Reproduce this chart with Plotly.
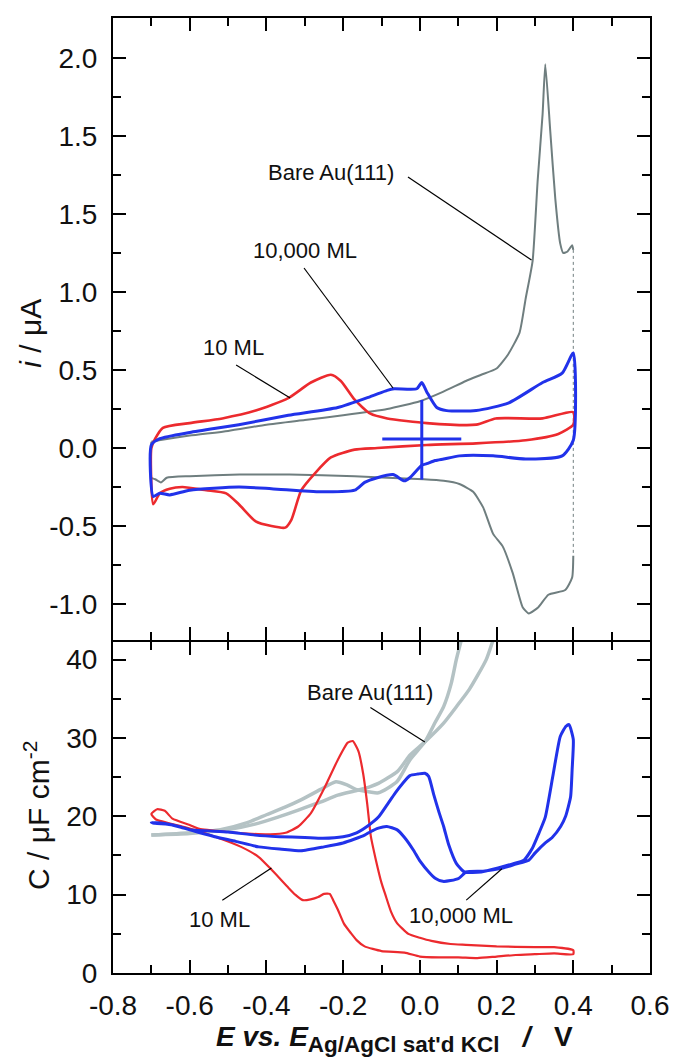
import plotly.graph_objects as go

# ---------------- top panel: cyclic voltammograms (i / uA) ----------------
bare_cv_fwd_E = [-0.70, -0.68, -0.60, -0.50, -0.40, -0.30, -0.20, -0.085, 0.0, 0.06, 0.12, 0.16, 0.20, 0.23, 0.26, 0.276, 0.294, 0.307, 0.320, 0.327, 0.34, 0.353, 0.366, 0.374, 0.385, 0.397, 0.40]
bare_cv_fwd_i = [0.04, 0.05, 0.08, 0.11, 0.15, 0.18, 0.21, 0.25, 0.30, 0.36, 0.43, 0.47, 0.51, 0.60, 0.74, 0.96, 1.20, 1.71, 2.14, 2.46, 2.03, 1.60, 1.31, 1.25, 1.26, 1.30, 1.27]
bare_cv_rev_E = [0.40, 0.397, 0.379, 0.335, 0.309, 0.284, 0.268, 0.242, 0.216, 0.191, 0.165, 0.139, 0.103, 0.062, 0.010, -0.085, -0.17, -0.34, -0.47, -0.60, -0.66, -0.675, -0.69, -0.70, -0.70]
bare_cv_rev_i = [-0.69, -0.83, -0.91, -0.94, -1.02, -1.06, -1.02, -0.80, -0.63, -0.55, -0.38, -0.28, -0.23, -0.21, -0.20, -0.19, -0.18, -0.17, -0.17, -0.18, -0.19, -0.22, -0.20, -0.19, 0.04]

ml10_cv_E = [-0.70, -0.69, -0.67, -0.60, -0.515, -0.428, -0.343, -0.284, -0.232, -0.206, -0.17, -0.129, -0.085, 0.018, 0.147, 0.198, 0.32, 0.40,
             0.40, 0.361, 0.276, 0.147, 0.018, -0.111, -0.17, -0.232, -0.273, -0.309, -0.335, -0.351, -0.387, -0.428, -0.472, -0.505, -0.557, -0.619, -0.652, -0.678, -0.695, -0.70]
ml10_cv_i = [0.00, 0.06, 0.13, 0.16, 0.19, 0.24, 0.32, 0.42, 0.47, 0.43, 0.31, 0.22, 0.19, 0.16, 0.15, 0.19, 0.19, 0.23,
             0.15, 0.09, 0.05, 0.03, 0.02, 0.00, -0.01, -0.06, -0.16, -0.27, -0.46, -0.51, -0.50, -0.47, -0.36, -0.29, -0.27, -0.25, -0.26, -0.29, -0.36, 0.00]

ml10000_cv_E = [-0.70, -0.678, -0.60, -0.472, -0.343, -0.214, -0.129, -0.085, -0.067, -0.008, 0.005, 0.018, 0.044, 0.070, 0.147, 0.232, 0.320, 0.371, 0.40,
                0.40, 0.371, 0.276, 0.191, 0.103, 0.062, 0.040, 0.018, 0.005, -0.026, -0.04, -0.07, -0.111, -0.144, -0.17, -0.258, -0.387, -0.472, -0.60, -0.652, -0.678, -0.695, -0.70]
ml10000_cv_i = [0.02, 0.06, 0.10, 0.15, 0.21, 0.26, 0.33, 0.37, 0.38, 0.38, 0.42, 0.36, 0.26, 0.24, 0.24, 0.29, 0.42, 0.48, 0.61,
                0.05, -0.05, -0.07, -0.05, -0.05, -0.07, -0.08, -0.10, -0.11, -0.19, -0.21, -0.17, -0.19, -0.22, -0.27, -0.28, -0.26, -0.25, -0.27, -0.30, -0.29, -0.31, 0.02]

# cross marker (10,000 ML) at E = 0
cross_E = [0.005]
cross_i = [0.058]
cross_dE = [0.103]
cross_di_plus = [0.25]
cross_di_minus = [0.26]

# ---------------- bottom panel: capacitance (C / uF cm-2) ----------------
bare_c_a_E = [-0.70, -0.60, -0.52, -0.45, -0.40, -0.35, -0.31, -0.26, -0.219, -0.19, -0.165, -0.13, -0.108, -0.06, -0.026, 0.013, 0.04, 0.062, 0.082, 0.095, 0.108, 0.12]
bare_c_a_C = [17.6, 17.9, 18.3, 19.2, 20.2, 21.2, 22.1, 23.4, 24.4, 24.0, 23.4, 23.1, 23.0, 24.4, 27.2, 29.5, 32.0, 34.0, 37.0, 40.0, 42.5, 45.0]
bare_c_b_E = [-0.70, -0.60, -0.50, -0.43, -0.37, -0.317, -0.26, -0.214, -0.165, -0.129, -0.108, -0.059, -0.041, -0.026, 0.013, 0.062, 0.10, 0.129, 0.173, 0.191, 0.21]
bare_c_b_C = [17.6, 17.8, 18.3, 19.0, 19.9, 20.8, 21.8, 22.7, 23.3, 23.8, 24.2, 25.7, 26.8, 27.8, 29.5, 31.9, 34.3, 36.2, 40.0, 42.5, 45.0]

ml10_c_E = [-0.70, -0.685, -0.665, -0.645, -0.60, -0.575, -0.50, -0.45, -0.39, -0.35, -0.317, -0.284, -0.247, -0.214, -0.188, -0.175, -0.16, -0.148, -0.137, -0.128, -0.115, -0.10, -0.09, -0.075, -0.06, -0.03, 0.0, 0.03, 0.08, 0.12, 0.20, 0.30, 0.35, 0.40,
            0.40, 0.35, 0.30, 0.25, 0.20, 0.15, 0.10, 0.05, 0.0, -0.04, -0.10, -0.144, -0.165, -0.18, -0.198, -0.214, -0.225, -0.235, -0.25, -0.265, -0.285, -0.305, -0.325, -0.345, -0.387, -0.42, -0.466, -0.534, -0.611, -0.688, -0.70]
ml10_c_C = [20.3, 20.9, 20.7, 19.7, 18.9, 18.4, 18.0, 17.8, 17.7, 17.9, 18.7, 20.4, 23.8, 27.2, 29.4, 29.6, 28.3, 25.5, 21.5, 17.5, 14.5, 11.5, 10.0, 7.8, 6.4, 5.0, 4.5, 4.1, 3.7, 3.6, 3.4, 3.3, 3.3, 2.9,
            2.4, 2.5, 2.4, 2.3, 2.1, 1.9, 2.0, 2.0, 2.1, 2.6, 2.8, 3.4, 4.2, 5.1, 6.3, 8.1, 9.2, 10.1, 10.1, 9.7, 9.4, 9.3, 10.0, 11.0, 13.2, 14.8, 16.1, 17.4, 18.6, 19.6, 20.3]

ml10000_c_E = [-0.70, -0.69, -0.644, -0.60, -0.50, -0.43, -0.366, -0.30, -0.253, -0.20, -0.165, -0.135, -0.108, -0.085, -0.064, -0.045, -0.026, -0.005, 0.013, 0.023, 0.036, 0.05, 0.062, 0.075, 0.095, 0.116, 0.16, 0.204, 0.24, 0.271, 0.294, 0.31, 0.327, 0.348, 0.366, 0.381, 0.389,
               0.40, 0.397, 0.393, 0.38, 0.367, 0.345, 0.327, 0.30, 0.284, 0.25, 0.216, 0.165, 0.121, 0.102, 0.08, 0.06, 0.04, 0.025, 0.0, -0.017, -0.04, -0.06, -0.086, -0.108, -0.13, -0.144, -0.17, -0.20, -0.25, -0.31, -0.36, -0.42, -0.48, -0.535, -0.58, -0.623, -0.67, -0.70]
ml10000_c_C = [19.2, 19.1, 18.9, 18.3, 18.0, 17.6, 17.4, 17.3, 17.2, 17.4, 17.9, 18.8, 19.9, 21.5, 23.0, 24.2, 25.2, 25.4, 25.5, 25.1, 22.8, 20.5, 18.7, 16.4, 14.0, 12.9, 12.9, 13.4, 13.9, 14.4, 16.0, 17.8, 19.9, 25.5, 30.2, 31.5, 31.7,
               29.8, 26.0, 22.5, 20.0, 18.7, 17.3, 16.6, 15.3, 14.4, 13.9, 13.4, 13.0, 12.9, 12.1, 11.8, 11.7, 12.1, 12.8, 14.3, 15.7, 17.3, 18.3, 18.7, 18.5, 18.0, 17.6, 17.1, 16.6, 16.1, 15.6, 15.8, 16.1, 16.8, 17.4, 18.0, 18.6, 19.1, 19.2]

# axis tick labels (as printed on the original figure)
top_tickvals = [-1.0, -0.5, 0.0, 0.5, 1.0, 1.5, 2.0, 2.5]
top_ticktext = ["-1.0", "-0.5", "0.0", "0.5", "1.0", "1.5", "1.5", "2.0"]
bot_tickvals = [0, 10, 20, 30, 40]
x_tickvals = [-0.8, -0.6, -0.4, -0.2, 0.0, 0.2, 0.4, 0.6]
x_ticktext = ["-0.8", "-0.6", "-0.4", "-0.2", "0.0", "0.2", "0.4", "0.6"]

RED = "#ec2a2e"
BLUE = "#2132ea"
GRAY = "#6f7e7f"
LGRAY = "#b4c2c4"
FONT = "Liberation Sans, Arial, sans-serif"

fig = go.Figure()

# top panel traces
fig.add_trace(go.Scatter(x=bare_cv_fwd_E, y=bare_cv_fwd_i, mode="lines", line=dict(color=GRAY, width=2, shape="spline", smoothing=0.5), xaxis="x2", yaxis="y2"))
fig.add_trace(go.Scatter(x=[bare_cv_fwd_E[-1], bare_cv_rev_E[0]], y=[bare_cv_fwd_i[-1], bare_cv_rev_i[0]], mode="lines",
                         line=dict(color=GRAY, width=1, dash="dot"), xaxis="x2", yaxis="y2"))
fig.add_trace(go.Scatter(x=bare_cv_rev_E, y=bare_cv_rev_i, mode="lines", line=dict(color=GRAY, width=2, shape="spline", smoothing=0.5), xaxis="x2", yaxis="y2"))
fig.add_trace(go.Scatter(x=ml10_cv_E, y=ml10_cv_i, mode="lines", line=dict(color=RED, width=2.6, shape="spline", smoothing=0.6), xaxis="x2", yaxis="y2"))
fig.add_trace(go.Scatter(x=ml10000_cv_E, y=ml10000_cv_i, mode="lines", line=dict(color=BLUE, width=3, shape="spline", smoothing=0.6), xaxis="x2", yaxis="y2"))
fig.add_trace(go.Scatter(x=cross_E, y=cross_i, mode="markers", marker=dict(size=1, color=BLUE),
                         error_x=dict(type="data", array=cross_dE, color=BLUE, thickness=3, width=0),
                         error_y=dict(type="data", symmetric=False, array=cross_di_plus, arrayminus=cross_di_minus, color=BLUE, thickness=3, width=0),
                         xaxis="x2", yaxis="y2"))

# bottom panel traces
fig.add_trace(go.Scatter(x=bare_c_a_E, y=bare_c_a_C, mode="lines", line=dict(color=LGRAY, width=3.5, shape="spline", smoothing=0.6), xaxis="x", yaxis="y"))
fig.add_trace(go.Scatter(x=bare_c_b_E, y=bare_c_b_C, mode="lines", line=dict(color=LGRAY, width=3.5, shape="spline", smoothing=0.6), xaxis="x", yaxis="y"))
fig.add_trace(go.Scatter(x=ml10_c_E, y=ml10_c_C, mode="lines", line=dict(color=RED, width=2.2, shape="spline", smoothing=0.5), xaxis="x", yaxis="y"))
fig.add_trace(go.Scatter(x=ml10000_c_E, y=ml10000_c_C, mode="lines", line=dict(color=BLUE, width=3, shape="spline", smoothing=0.5), xaxis="x", yaxis="y"))

split = 333 / 955
split_low = 331 / 955

axis_common = dict(showline=True, linecolor="black", linewidth=2, mirror="allticks", ticks="inside",
                   tickcolor="black", tickwidth=2, ticklen=13, showgrid=False, zeroline=False,
                   tickfont=dict(family=FONT, size=28, color="#111"))

fig.update_layout(
    width=681, height=1059,
    margin=dict(l=113, r=25, t=18, b=86),
    paper_bgcolor="white", plot_bgcolor="white",
    showlegend=False,
    xaxis=dict(**axis_common, range=[-0.8, 0.6], domain=[0, 1], anchor="y",
               tickmode="array", tickvals=x_tickvals, ticktext=x_ticktext, ticklabelstandoff=6,
               minor=dict(ticks="inside", ticklen=8, tickwidth=2, tickcolor="black", dtick=0.1, tick0=0)),
    yaxis=dict(**axis_common, range=[0, 42.25], domain=[0, split_low], anchor="x",
               tickmode="array", tickvals=bot_tickvals, ticklabelstandoff=8,
               minor=dict(ticks="inside", ticklen=8, tickwidth=2, tickcolor="black", dtick=5, tick0=0)),
    xaxis2=dict(**axis_common, range=[-0.8, 0.6], domain=[0, 1], anchor="y2", matches="x",
                tickmode="array", tickvals=x_tickvals, showticklabels=False,
                minor=dict(ticks="inside", ticklen=8, tickwidth=2, tickcolor="black", dtick=0.1, tick0=0)),
    yaxis2=dict(**axis_common, range=[-1.23, 2.756], domain=[split, 1], anchor="x2",
                tickmode="array", tickvals=top_tickvals, ticktext=top_ticktext, ticklabelstandoff=8,
                minor=dict(ticks="inside", ticklen=8, tickwidth=2, tickcolor="black", dtick=0.25, tick0=0)),
)

# labels with leader lines
lab_font = dict(family=FONT, size=22, color="#111")
labels = [
    ("Bare Au(111)", -0.232, 1.763, "x2", "y2", -0.031, 1.737, 0.291, 1.205),
    ("10,000 ML", -0.299, 1.269, "x2", "y2", -0.302, 1.154, -0.070, 0.385),
    ("10 ML", -0.485, 0.647, "x2", "y2", -0.479, 0.532, -0.338, 0.321),
    ("Bare Au(111)", -0.131, 35.8, "x", "y", -0.129, 33.9, 0.013, 29.5),
    ("10 ML", -0.523, 6.8, "x", "y", -0.515, 9.3, -0.387, 13.4),
    ("10,000 ML", 0.108, 7.4, "x", "y", 0.121, 9.3, 0.214, 13.3),
]
for txt, tx, ty, xr, yr, x0, y0, x1, y1 in labels:
    fig.add_annotation(text=txt, x=tx, y=ty, xref=xr, yref=yr, showarrow=False, font=lab_font,
                       xanchor="center", yanchor="middle")
    fig.add_shape(type="line", x0=x0, y0=y0, x1=x1, y1=y1, xref=xr, yref=yr, line=dict(color="black", width=1.2))

# axis titles
fig.add_annotation(text="<i>i</i> / μA", textangle=-90, xref="paper", yref="y2 domain",
                   x=(30 - 113) / 543, y=0.494, xanchor="center", yanchor="middle", showarrow=False,
                   font=dict(family=FONT, size=30, color="#111"))
fig.add_annotation(text="C / μF cm<sup>-2</sup>", textangle=-90, xref="paper", yref="y domain",
                   x=(36 - 113) / 543, y=0.477, xanchor="center", yanchor="middle", showarrow=False,
                   font=dict(family=FONT, size=30, color="#111"))
fig.add_annotation(text="<b><i>E vs. E</i><sub><span style='font-size:22.5px'>Ag/AgCl sat'd KCl</span></sub>   <i>/</i>   V</b>",
                   xref="paper", yref="paper", x=(216 - 113) / 543, y=(973 - 1039) / 955,
                   xanchor="left", yanchor="middle", showarrow=False, borderpad=0,
                   font=dict(family=FONT, size=28, color="#111"))

fig.write_html("out.html", config={"displayModeBar": False},
               post_script="document.body.style.margin='0';document.body.style.overflow='hidden';")
